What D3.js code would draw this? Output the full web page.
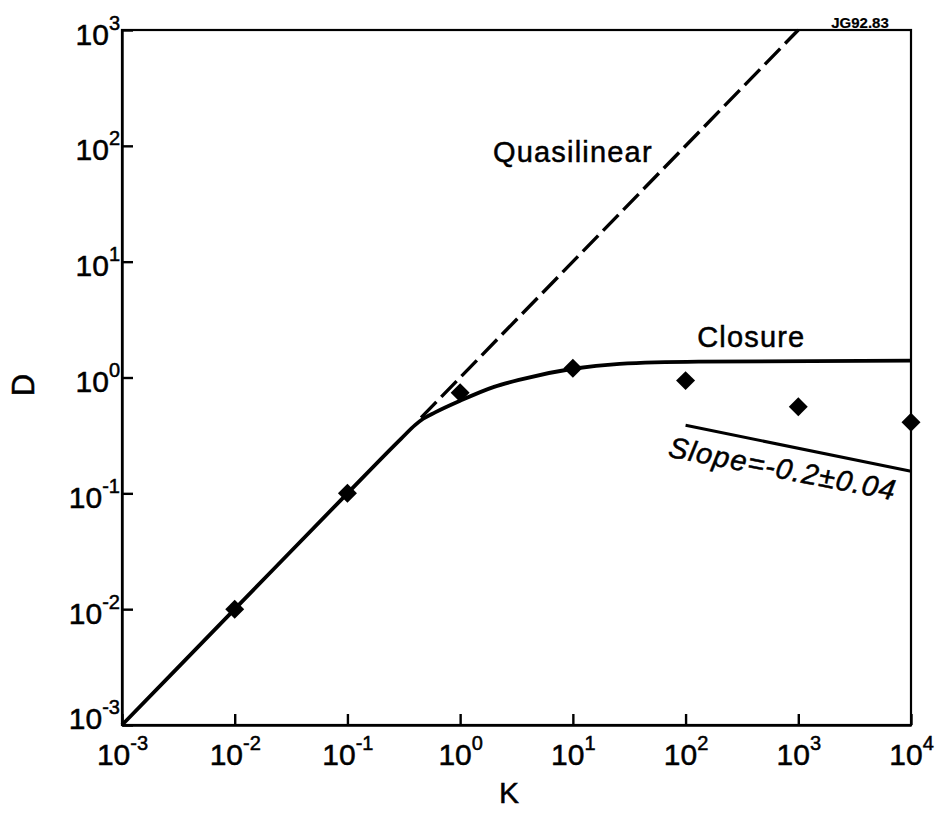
<!DOCTYPE html>
<html>
<head>
<meta charset="utf-8">
<script src="https://cdn.jsdelivr.net/npm/d3@7"></script>
<style>
  body { margin: 0; background: #fff; }
  svg { display: block; font-family: "Liberation Sans", Arial, Helvetica, sans-serif; }
  svg text { stroke: #000; stroke-width: 0.5px; }
</style>
</head>
<body>
<svg id="chart"></svg>
<script>
// axis ticks (powers of ten)
var kTicks = [1e-3, 1e-2, 1e-1, 1e0, 1e1, 1e2, 1e3, 1e4];
var kExps  = ["-3", "-2", "-1", "0", "1", "2", "3", "4"];
var dTicks = [1e-3, 1e-2, 1e-1, 1e0, 1e1, 1e2, 1e3];
var dExps  = ["-3", "-2", "-1", "0", "1", "2", "3"];

// simulation points (diamonds)
var simK = [1e-2, 1e-1, 1, 10, 100, 1000, 1e4];
var simD = [0.01, 0.1, 0.74, 1.2, 0.94, 0.56, 0.41];

// closure theory curve
var closureK = [1e-3, 1e-2, 1e-1, 0.3, 0.4, 0.47, 0.6, 1, 2, 3.4, 10, 26, 130, 1e4];
var closureD = [1e-3, 1e-2, 1e-1, 0.297, 0.39, 0.44, 0.5, 0.63, 0.83, 0.96, 1.19, 1.31, 1.37, 1.40];

// quasilinear D = K (dashed)
var quasiK = [0.45, 1000];
var quasiD = [0.45, 1000];

// slope reference line
var slopeK = [100, 1e4];
var slopeD = [0.387, 0.155];

var screen = { width: 938, height: 813 };
var margins = { top: 30, bottom: 88, left: 122, right: 27 };

var svg = d3.select("#chart")
  .attr("width", screen.width)
  .attr("height", screen.height);

var xScale = d3.scaleLog()
  .domain([1e-3, 1e4])
  .range([margins.left, screen.width - margins.right]);

var yScale = d3.scaleLog()
  .domain([1e-3, 1e3])
  .range([screen.height - margins.bottom, margins.top]);

var bottom = screen.height - margins.bottom;

// frame
svg.append("rect")
  .attr("x", margins.left)
  .attr("y", margins.top)
  .attr("width", xScale.range()[1] - margins.left)
  .attr("height", bottom - margins.top)
  .attr("fill", "none")
  .attr("stroke", "#000")
  .attr("stroke-width", 2.2);

var xAxis = d3.axisBottom(xScale)
  .tickValues(kTicks)
  .tickSizeInner(-11)
  .tickSizeOuter(0)
  .tickFormat(function() { return ""; });

var yAxis = d3.axisLeft(yScale)
  .tickValues(dTicks)
  .tickSizeInner(-11)
  .tickSizeOuter(0)
  .tickFormat(function() { return ""; });

var gx = svg.append("g")
  .attr("transform", "translate(0," + bottom + ")")
  .call(xAxis);

var gy = svg.append("g")
  .attr("transform", "translate(" + margins.left + ",0)")
  .call(yAxis);

[gx, gy].forEach(function(g) {
  g.select(".domain").attr("stroke-width", 2.4);
  g.selectAll(".tick line").attr("stroke-width", 2.4);
});

// power-of-ten tick labels
gx.selectAll(".tick text").each(function(d, i) {
  var t = d3.select(this)
    .attr("y", 40).attr("dy", 0)
    .attr("fill", "#000")
    .attr("font-size", 30)
    .attr("text-anchor", "middle");
  t.text("");
  t.append("tspan").text("10");
  t.append("tspan").attr("dy", -15).attr("font-size", 20).text(kExps[i]);
});

gy.selectAll(".tick text").each(function(d, i) {
  var t = d3.select(this)
    .attr("x", -2).attr("dy", 0)
    .attr("y", d === 1e-3 ? 3 : 14)
    .attr("fill", "#000")
    .attr("font-size", 30)
    .attr("text-anchor", "end");
  t.text("");
  t.append("tspan").text("10");
  t.append("tspan").attr("dy", -15).attr("font-size", 20).text(dExps[i]);
});

var line = d3.line()
  .x(function(d) { return xScale(d[0]); })
  .y(function(d) { return yScale(d[1]); });

// quasilinear dashed
svg.append("path")
  .datum(d3.zip(quasiK, quasiD))
  .attr("d", line)
  .attr("fill", "none")
  .attr("stroke", "#000")
  .attr("stroke-width", 3.4)
  .attr("stroke-dasharray", "22,7");

// closure
svg.append("path")
  .datum(d3.zip(closureK, closureD))
  .attr("d", line.curve(d3.curveMonotoneX))
  .attr("fill", "none")
  .attr("stroke", "#000")
  .attr("stroke-width", 3.8);

// slope line
svg.append("path")
  .datum(d3.zip(slopeK, slopeD))
  .attr("d", d3.line()
    .x(function(d) { return xScale(d[0]); })
    .y(function(d) { return yScale(d[1]); }))
  .attr("fill", "none")
  .attr("stroke", "#000")
  .attr("stroke-width", 3);

// diamonds
var diamond = d3.symbol().type(d3.symbolSquare).size(180);
svg.selectAll(".pt")
  .data(d3.zip(simK, simD))
  .enter()
  .append("path")
  .attr("class", "pt")
  .attr("d", diamond)
  .attr("transform", function(d) {
    return "translate(" + xScale(d[0]) + "," + yScale(d[1]) + ") rotate(45)";
  })
  .attr("fill", "#000");

// annotations
svg.append("text")
  .attr("x", xScale(10)).attr("y", yScale(73))
  .attr("text-anchor", "middle")
  .attr("font-size", 29)
  .attr("letter-spacing", 1.2)
  .text("Quasilinear");

svg.append("text")
  .attr("x", xScale(383)).attr("y", yScale(1.85))
  .attr("text-anchor", "middle")
  .attr("font-size", 29)
  .attr("letter-spacing", 1.2)
  .text("Closure");

var sx = xScale(68.7), sy = yScale(0.208);
svg.append("text")
  .attr("transform", "translate(" + sx + "," + sy + ") rotate(11)")
  .attr("font-size", 29)
  .attr("font-style", "italic")
  .attr("letter-spacing", 1.2)
  .text("Slope=-0.2±0.04");

svg.append("text")
  .attr("x", 860).attr("y", 28)
  .attr("text-anchor", "middle")
  .attr("font-size", 15)
  .attr("font-weight", "bold")
  .style("stroke-width", "0.2px")
  .text("JG92.83");

// axis titles
svg.append("text")
  .attr("x", 509).attr("y", 803)
  .attr("text-anchor", "middle")
  .attr("font-size", 30)
  .text("K");

svg.append("text")
  .attr("transform", "translate(34,385) rotate(-90)")
  .attr("text-anchor", "middle")
  .attr("font-size", 31)
  .text("D");
</script>
</body>
</html>
